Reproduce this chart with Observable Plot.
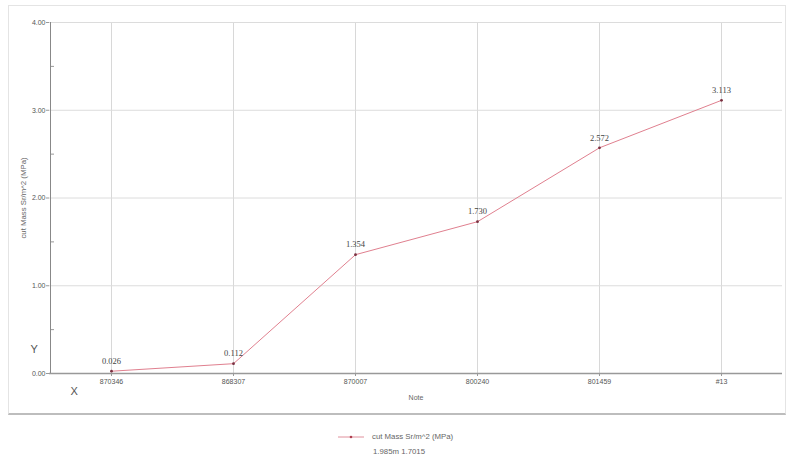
<!DOCTYPE html>
<html><head><meta charset="utf-8">
<script src="https://cdn.jsdelivr.net/npm/d3@7"></script>
<script src="https://cdn.jsdelivr.net/npm/@observablehq/plot@0.6"></script>
<style>
body{margin:0;background:#fff;font-family:"Liberation Sans",Arial,sans-serif;}
#wrap{position:relative;width:790px;height:461px;overflow:hidden;}
#frame{position:absolute;left:8px;top:5px;width:776px;height:407px;border:1px solid #e4e4e4;border-bottom:2px solid #bdbdbd;}
#chart{position:absolute;left:0;top:0;}
#legend{position:absolute;left:0;top:428px;width:790px;font-size:7.8px;color:#666;}
.lg{position:absolute;white-space:nowrap;}
</style></head>
<body><div id="wrap"><div id="frame"></div><div id="chart"></div>
<div id="legend">
<svg class="lg" style="left:338px;top:5px" width="30" height="8"><line x1="0" y1="4" x2="26" y2="4" stroke="#e0909c" stroke-width="1"/><circle cx="13" cy="4" r="1.3" fill="#b04050"/></svg>
<span class="lg" id="lgtext" style="left:372px;top:4px"></span>
<span class="lg" id="lgsub" style="left:373px;top:19px"></span>
</div></div>
<script>
const categories = ["870346", "868307", "870007", "800240", "801459", "#13"];
const values = [0.026, 0.112, 1.354, 1.730, 2.572, 3.113];
const valueLabels = ["0.026", "0.112", "1.354", "1.730", "2.572", "3.113"];
const yTicks = [0, 1, 2, 3, 4];
const yMinorTicks = [0.5, 1.5, 2.5, 3.5];
const seriesName = "cut Mass Sr/m^2 (MPa)";
const subNote = "1.985m  1.7015";
const xTitle = "Note";

const data = categories.map((c, i) => ({cat: c, v: values[i], lab: valueLabels[i]}));
document.getElementById("lgtext").textContent = seriesName;
document.getElementById("lgsub").textContent = subNote;

const W = 790, H = 415;
const chart = Plot.plot({
  width: W, height: H,
  marginLeft: 49, marginRight: 8, marginTop: 22, marginBottom: 42,
  style: {fontFamily: "Liberation Sans, Arial, sans-serif", fontSize: "7px", color: "#666", background: "transparent"},
  x: {type: "point", domain: categories, padding: 0.5, label: null},
  y: {domain: [0, 4], label: null},
  marks: [
    Plot.gridX(categories, {stroke: "#d8d8d8", strokeOpacity: 1}),
    Plot.gridY(yTicks, {stroke: "#dcdcdc", strokeOpacity: 1}),
    Plot.axisY(yTicks, {tickFormat: d => d.toFixed(2), tickSize: 3, stroke: "#999", fill: "#555", fontSize: 7, tickPadding: 1, dx: 0}),
    Plot.tickY(yMinorTicks, {y: d => d, stroke: "#999", insetLeft: 1, insetRight: 728}),
    Plot.axisX(categories, {tickSize: 3, stroke: "#999", fill: "#555", fontSize: 7, tickPadding: 3}),
    Plot.ruleX([0], {x: () => categories[0], dx: -61, stroke: "#888"}),
    Plot.ruleY([0], {stroke: "#999", strokeWidth: 1.5}),
    Plot.line(data, {x: "cat", y: "v", stroke: "#e0808f", strokeWidth: 1}),
    Plot.dot(data, {x: "cat", y: "v", r: 1.4, fill: "#7a3040"}),
    Plot.text(data, {x: "cat", y: "v", text: "lab", dy: -10, fontFamily: "Liberation Serif, Times New Roman, serif", fontSize: 8.5, fill: "#444"}),
    Plot.text([xTitle], {frameAnchor: "bottom", dy: 26, fontSize: 7, fill: "#666"}),
    Plot.text([seriesName], {frameAnchor: "left", textAnchor: "middle", dx: -26, rotate: -90, fontSize: 7.8, fill: "#666"}),
    Plot.text(["Y"], {frameAnchor: "bottom-left", dx: -19, dy: -21, fontSize: 11, fill: "#555"}),
    Plot.text(["X"], {frameAnchor: "bottom-left", dx: 21, dy: 21, fontSize: 11, fill: "#555"})
  ]
});
document.getElementById("chart").appendChild(chart);
</script></body></html>
